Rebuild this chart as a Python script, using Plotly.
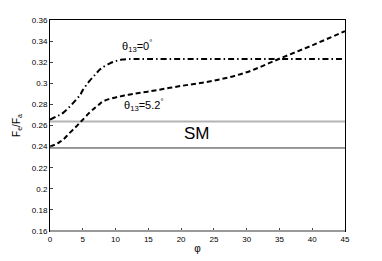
import plotly.graph_objects as go

# phi values (degrees) and ratio F_e/F_a
phi = [0, 1, 1.5, 2, 3, 4, 4.6, 5, 6, 7, 7.6, 8, 9, 10, 11, 12, 15, 20, 25, 30, 35, 40, 45]
theta_0 = [0.2655, 0.2687, 0.270, 0.272, 0.2778, 0.2846, 0.289, 0.2935, 0.302, 0.309, 0.313,
           0.3150, 0.3185, 0.321, 0.3225, 0.323, 0.323, 0.323, 0.323, 0.323, 0.323, 0.323, 0.323]
theta_52 = [0.240, 0.2425, 0.2444, 0.2465, 0.253, 0.259, 0.263, 0.2655, 0.272, 0.2775, 0.2805,
            0.2825, 0.2850, 0.2866, 0.2880, 0.2892, 0.2922, 0.2975, 0.3025, 0.3105, 0.3233,
            0.336, 0.3495]
sm_x = [0, 45]
sm_upper = [0.2637, 0.2637]
sm_lower = [0.2387, 0.2387]

fig = go.Figure()
fig.add_trace(go.Scatter(x=sm_x, y=sm_upper, mode='lines',
                         line=dict(color='#b4b4b4', width=2)))
fig.add_trace(go.Scatter(x=sm_x, y=sm_lower, mode='lines',
                         line=dict(color='#333333', width=1)))
fig.add_trace(go.Scatter(x=phi, y=theta_0, mode='lines',
                         line=dict(color='black', width=2, shape='spline',
                                   dash='6px,3px,1.5px,3px')))
fig.add_trace(go.Scatter(x=phi, y=theta_52, mode='lines',
                         line=dict(color='black', width=2, shape='spline',
                                   dash='5px,3px')))

fig.add_annotation(x=13.2, y=0.3355, text='θ<sub>13</sub>=0<sup>°</sup>', showarrow=False,
                   font=dict(size=11, color='black'))
fig.add_annotation(x=14.3, y=0.2795, text='θ<sub>13</sub>=5.2<sup>°</sup>', showarrow=False,
                   font=dict(size=11, color='black'))
fig.add_annotation(x=22.4, y=0.2525, text='SM', showarrow=False,
                   font=dict(size=17, color='black'))

# gray bottom border
fig.add_shape(type='line', xref='paper', yref='paper', x0=0, x1=1, y0=0, y1=0,
              line=dict(color='#9a9a9a', width=2), layer='above')

# page body adds an 8px offset, so the figure is a bit smaller than the window
fig.update_layout(
    width=374, height=253,
    margin=dict(l=42, r=37, t=12, b=30),
    paper_bgcolor='white', plot_bgcolor='white',
    showlegend=False,
    font=dict(family='Liberation Sans, Arial, sans-serif', color='black', size=8),
    xaxis=dict(range=[0, 45], dtick=5, tick0=0, ticks='inside', ticklen=3,
               showline=True, linecolor='black', linewidth=1, mirror=True,
               showgrid=False, zeroline=False, automargin=False,
               title=dict(text='φ', font=dict(size=10), standoff=2)),
    yaxis=dict(range=[0.16, 0.36], dtick=0.02, tick0=0.16, ticks='inside', ticklen=3,
               showline=True, linecolor='black', linewidth=1, mirror=True,
               showgrid=False, zeroline=False, automargin=False,
               title=dict(text='F<sub>e</sub>/F<sub>a</sub>', font=dict(size=10), standoff=9)),
)

fig.write_html("out.html")
